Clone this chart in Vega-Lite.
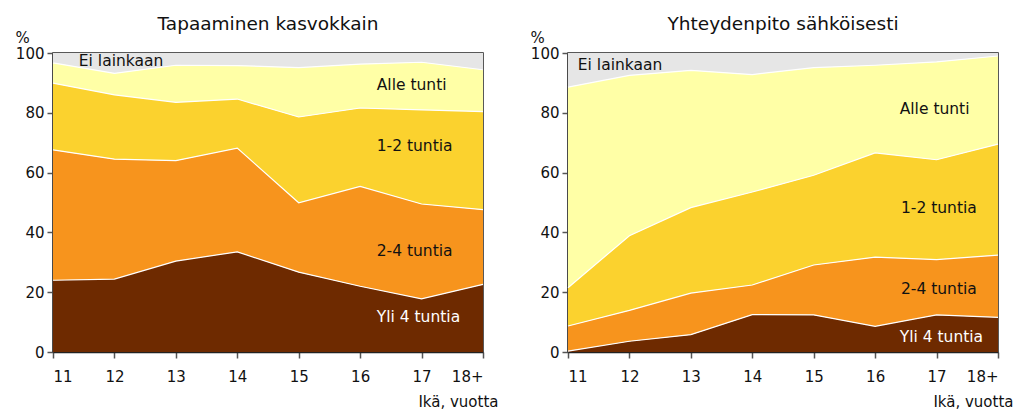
{
  "$schema": "https://vega.github.io/schema/vega-lite/v6.json",
  "padding": {"left": 14, "top": 13, "right": 0, "bottom": 0},
  "background": "white",
  "config": {
    "font": "DejaVu Sans",
    "view": {"stroke": "#222", "strokeWidth": 1.5},
    "axis": {"domainColor": "#222", "domainWidth": 1.5, "tickColor": "#555", "tickWidth": 1.5, "labelColor": "#111", "titleColor": "#111", "labelFont": "DejaVu Sans", "titleFont": "DejaVu Sans", "labelFontSize": 15, "titleFontSize": 15, "titleFontWeight": "normal", "grid": false, "zindex": 1},
    "title": {"font": "DejaVu Sans", "fontSize": 18.5, "fontWeight": "normal", "color": "#111"}
  },
  "datasets": {
    "d": [
      {"p": "A", "age": 11, "cat": "Yli 4 tuntia", "k": 1, "v": 24.0},
      {"p": "A", "age": 12, "cat": "Yli 4 tuntia", "k": 1, "v": 24.4},
      {"p": "A", "age": 13, "cat": "Yli 4 tuntia", "k": 1, "v": 30.4},
      {"p": "A", "age": 14, "cat": "Yli 4 tuntia", "k": 1, "v": 33.5},
      {"p": "A", "age": 15, "cat": "Yli 4 tuntia", "k": 1, "v": 26.7},
      {"p": "A", "age": 16, "cat": "Yli 4 tuntia", "k": 1, "v": 22.0},
      {"p": "A", "age": 17, "cat": "Yli 4 tuntia", "k": 1, "v": 17.8},
      {"p": "A", "age": 18, "cat": "Yli 4 tuntia", "k": 1, "v": 22.6},
      {"p": "A", "age": 11, "cat": "2-4 tuntia", "k": 2, "v": 43.6},
      {"p": "A", "age": 12, "cat": "2-4 tuntia", "k": 2, "v": 40.1},
      {"p": "A", "age": 13, "cat": "2-4 tuntia", "k": 2, "v": 33.6},
      {"p": "A", "age": 14, "cat": "2-4 tuntia", "k": 2, "v": 34.7},
      {"p": "A", "age": 15, "cat": "2-4 tuntia", "k": 2, "v": 23.2},
      {"p": "A", "age": 16, "cat": "2-4 tuntia", "k": 2, "v": 33.4},
      {"p": "A", "age": 17, "cat": "2-4 tuntia", "k": 2, "v": 31.7},
      {"p": "A", "age": 18, "cat": "2-4 tuntia", "k": 2, "v": 25.0},
      {"p": "A", "age": 11, "cat": "1-2 tuntia", "k": 3, "v": 22.3},
      {"p": "A", "age": 12, "cat": "1-2 tuntia", "k": 3, "v": 21.5},
      {"p": "A", "age": 13, "cat": "1-2 tuntia", "k": 3, "v": 19.5},
      {"p": "A", "age": 14, "cat": "1-2 tuntia", "k": 3, "v": 16.4},
      {"p": "A", "age": 15, "cat": "1-2 tuntia", "k": 3, "v": 28.7},
      {"p": "A", "age": 16, "cat": "1-2 tuntia", "k": 3, "v": 26.2},
      {"p": "A", "age": 17, "cat": "1-2 tuntia", "k": 3, "v": 31.5},
      {"p": "A", "age": 18, "cat": "1-2 tuntia", "k": 3, "v": 32.8},
      {"p": "A", "age": 11, "cat": "Alle tunti", "k": 4, "v": 6.8},
      {"p": "A", "age": 12, "cat": "Alle tunti", "k": 4, "v": 7.2},
      {"p": "A", "age": 13, "cat": "Alle tunti", "k": 4, "v": 12.4},
      {"p": "A", "age": 14, "cat": "Alle tunti", "k": 4, "v": 11.2},
      {"p": "A", "age": 15, "cat": "Alle tunti", "k": 4, "v": 16.5},
      {"p": "A", "age": 16, "cat": "Alle tunti", "k": 4, "v": 14.7},
      {"p": "A", "age": 17, "cat": "Alle tunti", "k": 4, "v": 15.9},
      {"p": "A", "age": 18, "cat": "Alle tunti", "k": 4, "v": 14.0},
      {"p": "A", "age": 11, "cat": "Ei lainkaan", "k": 5, "v": 3.3},
      {"p": "A", "age": 12, "cat": "Ei lainkaan", "k": 5, "v": 6.8},
      {"p": "A", "age": 13, "cat": "Ei lainkaan", "k": 5, "v": 4.1},
      {"p": "A", "age": 14, "cat": "Ei lainkaan", "k": 5, "v": 4.2},
      {"p": "A", "age": 15, "cat": "Ei lainkaan", "k": 5, "v": 4.9},
      {"p": "A", "age": 16, "cat": "Ei lainkaan", "k": 5, "v": 3.7},
      {"p": "A", "age": 17, "cat": "Ei lainkaan", "k": 5, "v": 3.1},
      {"p": "A", "age": 18, "cat": "Ei lainkaan", "k": 5, "v": 5.6},
      {"p": "B", "age": 11, "cat": "Yli 4 tuntia", "k": 1, "v": 0.3},
      {"p": "B", "age": 12, "cat": "Yli 4 tuntia", "k": 1, "v": 3.6},
      {"p": "B", "age": 13, "cat": "Yli 4 tuntia", "k": 1, "v": 5.8},
      {"p": "B", "age": 14, "cat": "Yli 4 tuntia", "k": 1, "v": 12.5},
      {"p": "B", "age": 15, "cat": "Yli 4 tuntia", "k": 1, "v": 12.4},
      {"p": "B", "age": 16, "cat": "Yli 4 tuntia", "k": 1, "v": 8.6},
      {"p": "B", "age": 17, "cat": "Yli 4 tuntia", "k": 1, "v": 12.4},
      {"p": "B", "age": 18, "cat": "Yli 4 tuntia", "k": 1, "v": 11.6},
      {"p": "B", "age": 11, "cat": "2-4 tuntia", "k": 2, "v": 8.4},
      {"p": "B", "age": 12, "cat": "2-4 tuntia", "k": 2, "v": 10.3},
      {"p": "B", "age": 13, "cat": "2-4 tuntia", "k": 2, "v": 13.9},
      {"p": "B", "age": 14, "cat": "2-4 tuntia", "k": 2, "v": 9.9},
      {"p": "B", "age": 15, "cat": "2-4 tuntia", "k": 2, "v": 16.7},
      {"p": "B", "age": 16, "cat": "2-4 tuntia", "k": 2, "v": 23.1},
      {"p": "B", "age": 17, "cat": "2-4 tuntia", "k": 2, "v": 18.5},
      {"p": "B", "age": 18, "cat": "2-4 tuntia", "k": 2, "v": 20.8},
      {"p": "B", "age": 11, "cat": "1-2 tuntia", "k": 3, "v": 12.8},
      {"p": "B", "age": 12, "cat": "1-2 tuntia", "k": 3, "v": 25.0},
      {"p": "B", "age": 13, "cat": "1-2 tuntia", "k": 3, "v": 28.6},
      {"p": "B", "age": 14, "cat": "1-2 tuntia", "k": 3, "v": 31.1},
      {"p": "B", "age": 15, "cat": "1-2 tuntia", "k": 3, "v": 30.0},
      {"p": "B", "age": 16, "cat": "1-2 tuntia", "k": 3, "v": 34.9},
      {"p": "B", "age": 17, "cat": "1-2 tuntia", "k": 3, "v": 33.4},
      {"p": "B", "age": 18, "cat": "1-2 tuntia", "k": 3, "v": 37.1},
      {"p": "B", "age": 11, "cat": "Alle tunti", "k": 4, "v": 67.1},
      {"p": "B", "age": 12, "cat": "Alle tunti", "k": 4, "v": 53.6},
      {"p": "B", "age": 13, "cat": "Alle tunti", "k": 4, "v": 45.9},
      {"p": "B", "age": 14, "cat": "Alle tunti", "k": 4, "v": 39.3},
      {"p": "B", "age": 15, "cat": "Alle tunti", "k": 4, "v": 36.0},
      {"p": "B", "age": 16, "cat": "Alle tunti", "k": 4, "v": 29.3},
      {"p": "B", "age": 17, "cat": "Alle tunti", "k": 4, "v": 32.7},
      {"p": "B", "age": 18, "cat": "Alle tunti", "k": 4, "v": 29.5},
      {"p": "B", "age": 11, "cat": "Ei lainkaan", "k": 5, "v": 11.4},
      {"p": "B", "age": 12, "cat": "Ei lainkaan", "k": 5, "v": 7.5},
      {"p": "B", "age": 13, "cat": "Ei lainkaan", "k": 5, "v": 5.8},
      {"p": "B", "age": 14, "cat": "Ei lainkaan", "k": 5, "v": 7.2},
      {"p": "B", "age": 15, "cat": "Ei lainkaan", "k": 5, "v": 4.9},
      {"p": "B", "age": 16, "cat": "Ei lainkaan", "k": 5, "v": 4.1},
      {"p": "B", "age": 17, "cat": "Ei lainkaan", "k": 5, "v": 3.0},
      {"p": "B", "age": 18, "cat": "Ei lainkaan", "k": 5, "v": 1.0}
    ],
    "lab": [
      {"p": "A", "label": "Ei lainkaan", "x": 11.42, "y": 97.3},
      {"p": "A", "label": "Alle tunti", "x": 16.27, "y": 89.3},
      {"p": "A", "label": "1-2 tuntia", "x": 16.27, "y": 68.9},
      {"p": "A", "label": "2-4 tuntia", "x": 16.27, "y": 33.8},
      {"p": "A", "label": "Yli 4 tuntia", "x": 16.27, "y": 11.7},
      {"p": "B", "label": "Ei lainkaan", "x": 11.16, "y": 96.0},
      {"p": "B", "label": "Alle tunti", "x": 16.4, "y": 81.3},
      {"p": "B", "label": "1-2 tuntia", "x": 16.42, "y": 48.2},
      {"p": "B", "label": "2-4 tuntia", "x": 16.42, "y": 21.0},
      {"p": "B", "label": "Yli 4 tuntia", "x": 16.4, "y": 5.0}
    ]
  },
  "hconcat": [
    {
      "title": {"text": "Tapaaminen kasvokkain", "offset": -3},
      "width": 430,
      "height": 299,
      "layer": [
        {
          "data": {"name": "d"},
          "transform": [{"filter": "datum.p === 'A'"}],
          "mark": {"type": "area", "opacity": 1},
          "encoding": {
            "x": {"field": "age", "type": "quantitative", "scale": {"domain": [11, 18], "nice": false, "zero": false},
              "axis": {"values": [11, 12, 13, 14, 15, 16, 17, 18], "format": "d", "labelExpr": "datum.value == 18 ? '18+' : datum.label", "tickSize": 6, "labelPadding": 11, "title": "Ikä, vuotta", "titleX": 445, "titleY": 49, "titleAlign": "right", "titleBaseline": "middle"}},
            "y": {"field": "v", "type": "quantitative", "stack": "zero", "scale": {"domain": [0, 100], "nice": false},
              "axis": {"values": [0, 20, 40, 60, 80, 100], "tickSize": 6, "labelPadding": 3, "title": "%", "titleAngle": 0, "titleX": -31, "titleY": -16, "titleAlign": "center", "titleBaseline": "middle"}},
            "color": {"field": "cat", "type": "nominal", "legend": null,
              "scale": {"domain": ["Yli 4 tuntia", "2-4 tuntia", "1-2 tuntia", "Alle tunti", "Ei lainkaan"], "range": ["#6e2a00", "#f7941d", "#fbd22e", "#ffffa6", "#e6e6e6"]}},
            "order": {"field": "k", "type": "quantitative", "sort": "ascending"}
          }
        },
        {
          "data": {"name": "d"},
          "transform": [{"filter": "datum.p === 'A' && datum.k < 5"}],
          "mark": {"type": "line", "color": "white", "strokeWidth": 1.2},
          "encoding": {
            "x": {"field": "age", "type": "quantitative"},
            "y": {"field": "v", "type": "quantitative", "stack": "zero"},
            "detail": {"field": "cat"},
            "order": {"field": "k", "type": "quantitative", "sort": "ascending"}
          }
        },
        {
          "data": {"name": "lab"},
          "transform": [{"filter": "datum.p === 'A'"}],
          "mark": {"type": "text", "align": "left", "baseline": "middle", "fontSize": 15.5, "font": "DejaVu Sans"},
          "encoding": {
            "x": {"field": "x", "type": "quantitative"},
            "y": {"field": "y", "type": "quantitative"},
            "text": {"field": "label"},
            "color": {"condition": {"test": "datum.label === 'Yli 4 tuntia'", "value": "white"}, "value": "#111"}
          }
        }
      ]
    },
    {
      "title": {"text": "Yhteydenpito sähköisesti", "offset": -3},
      "width": 430,
      "height": 299,
      "layer": [
        {
          "data": {"name": "d"},
          "transform": [{"filter": "datum.p === 'B'"}],
          "mark": {"type": "area", "opacity": 1},
          "encoding": {
            "x": {"field": "age", "type": "quantitative", "scale": {"domain": [11, 18], "nice": false, "zero": false},
              "axis": {"values": [11, 12, 13, 14, 15, 16, 17, 18], "format": "d", "labelExpr": "datum.value == 18 ? '18+' : datum.label", "tickSize": 6, "labelPadding": 11, "title": "Ikä, vuotta", "titleX": 445, "titleY": 49, "titleAlign": "right", "titleBaseline": "middle"}},
            "y": {"field": "v", "type": "quantitative", "stack": "zero", "scale": {"domain": [0, 100], "nice": false},
              "axis": {"values": [0, 20, 40, 60, 80, 100], "tickSize": 6, "labelPadding": 3, "title": "%", "titleAngle": 0, "titleX": -31, "titleY": -16, "titleAlign": "center", "titleBaseline": "middle"}},
            "color": {"field": "cat", "type": "nominal", "legend": null,
              "scale": {"domain": ["Yli 4 tuntia", "2-4 tuntia", "1-2 tuntia", "Alle tunti", "Ei lainkaan"], "range": ["#6e2a00", "#f7941d", "#fbd22e", "#ffffa6", "#e6e6e6"]}},
            "order": {"field": "k", "type": "quantitative", "sort": "ascending"}
          }
        },
        {
          "data": {"name": "d"},
          "transform": [{"filter": "datum.p === 'B' && datum.k < 5"}],
          "mark": {"type": "line", "color": "white", "strokeWidth": 1.2},
          "encoding": {
            "x": {"field": "age", "type": "quantitative"},
            "y": {"field": "v", "type": "quantitative", "stack": "zero"},
            "detail": {"field": "cat"},
            "order": {"field": "k", "type": "quantitative", "sort": "ascending"}
          }
        },
        {
          "data": {"name": "lab"},
          "transform": [{"filter": "datum.p === 'B'"}],
          "mark": {"type": "text", "align": "left", "baseline": "middle", "fontSize": 15.5, "font": "DejaVu Sans"},
          "encoding": {
            "x": {"field": "x", "type": "quantitative"},
            "y": {"field": "y", "type": "quantitative"},
            "text": {"field": "label"},
            "color": {"condition": {"test": "datum.label === 'Yli 4 tuntia'", "value": "white"}, "value": "#111"}
          }
        }
      ]
    }
  ],
  "spacing": 85,
  "bounds": "flush"
}
